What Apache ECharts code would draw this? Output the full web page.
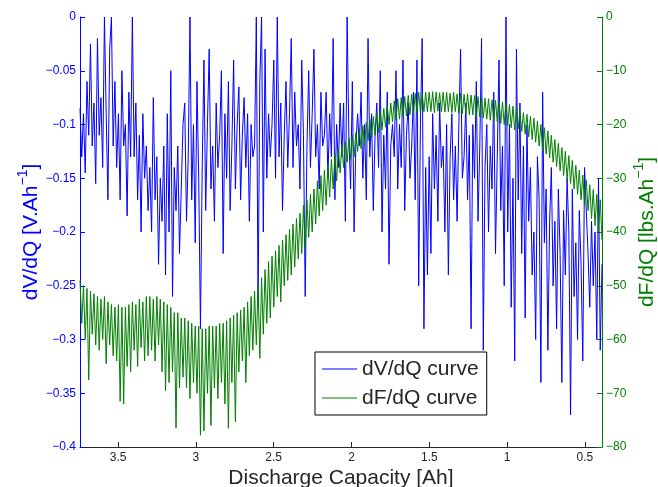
<!DOCTYPE html>
<html>
<head>
<meta charset="utf-8">
<script src="https://cdn.jsdelivr.net/npm/echarts@6/dist/echarts.min.js"></script>
<style>
html,body{margin:0;padding:0;background:#fff;}
#chart{width:658px;height:487px;}
</style>
</head>
<body>
<div id="chart"></div>
<script>
// Discharge capacity range (Ah), samples are evenly spaced from CAP_MAX down to CAP_MIN
const CAP_MAX = 3.745;
const CAP_MIN = 0.39;
const xTicks = [0.5, 1, 1.5, 2, 2.5, 3, 3.5];
const leftTicks = [0, -0.05, -0.1, -0.15, -0.2, -0.25, -0.3, -0.35, -0.4];
const rightTicks = [0, -10, -20, -30, -40, -50, -60, -70, -80];
const seriesNames = ['dV/dQ curve', 'dF/dQ curve'];

// dV/dQ [V.Ah^-1]
const dVdQ = [
-0.085,-0.13,-0.09,-0.145,-0.06,-0.11,-0.025,-0.12,-0.08,-0.155,
-0.02,-0.11,-0.075,-0.14,0,-0.09,-0.17,-0.03,0,-0.12,
-0.06,-0.14,-0.09,-0.17,-0.05,-0.12,-0.1,-0.185,-0.07,-0.13,
0,-0.13,-0.08,-0.17,-0.11,-0.2,-0.09,-0.15,-0.12,-0.18,
-0.14,-0.2,-0.075,-0.17,-0.13,-0.23,-0.15,-0.19,-0.12,-0.24,
-0.09,-0.2,-0.05,-0.26,-0.14,-0.18,-0.12,-0.22,-0.16,-0.1,
-0.08,-0.19,-0.13,0,-0.17,-0.1,-0.21,-0.06,-0.15,-0.29,
-0.14,-0.04,-0.18,-0.1,-0.03,-0.16,-0.12,-0.19,-0.08,-0.14,
-0.11,-0.05,-0.22,-0.09,-0.15,-0.06,-0.18,-0.12,-0.04,-0.16,
-0.1,-0.065,-0.17,-0.11,-0.075,-0.14,-0.09,-0.19,-0.1,-0.13,
-0.12,0,-0.27,-0.06,0,-0.2,-0.03,-0.15,-0.09,-0.13,
-0.1,-0.04,-0.15,0,-0.13,-0.08,-0.18,-0.11,-0.06,-0.14,
-0.09,-0.02,-0.14,-0.07,-0.12,-0.1,-0.16,-0.04,-0.11,-0.26,
-0.12,-0.05,-0.14,-0.09,-0.03,-0.13,-0.1,-0.16,-0.07,-0.12,
-0.11,-0.07,-0.15,-0.09,-0.13,-0.02,-0.17,-0.1,-0.14,-0.08,
-0.13,-0.08,-0.19,0,-0.11,-0.16,-0.06,-0.2,-0.12,-0.09,
-0.12,-0.07,-0.15,-0.1,-0.17,-0.02,-0.13,-0.09,-0.18,-0.11,
-0.08,-0.14,-0.05,-0.2,-0.11,-0.16,-0.07,-0.23,-0.12,-0.1,
-0.13,-0.05,-0.16,-0.1,-0.14,-0.04,-0.18,-0.11,-0.08,-0.15,
-0.12,-0.07,-0.17,-0.04,-0.25,-0.1,-0.02,-0.29,-0.14,-0.24,
-0.13,-0.22,-0.09,-0.16,-0.11,-0.19,-0.08,-0.14,-0.12,-0.2,
-0.1,-0.24,-0.13,-0.09,-0.17,-0.12,-0.19,-0.1,-0.03,-0.15,
-0.13,-0.08,-0.17,-0.11,-0.29,-0.1,-0.15,-0.06,-0.19,-0.12,
-0.02,-0.31,-0.14,-0.1,-0.2,-0.12,-0.16,-0.07,-0.22,-0.13,
-0.04,-0.18,-0.12,-0.25,0,-0.2,-0.1,-0.27,-0.15,-0.32,
-0.03,-0.17,-0.08,-0.22,-0.12,-0.28,-0.1,-0.19,-0.14,-0.24,
-0.2,-0.3,-0.13,-0.17,-0.34,-0.07,-0.21,-0.16,-0.31,-0.19,
-0.14,-0.25,-0.19,-0.29,-0.16,-0.22,-0.34,-0.18,-0.24,-0.15,
-0.2,-0.37,-0.16,-0.26,-0.21,-0.3,-0.18,-0.23,-0.32,-0.14,
-0.14,-0.22,-0.27,-0.19,-0.25,-0.2,-0.3,-0.15,-0.31,-0.23
];

// dF/dQ [lbs.Ah^-1]
const dFdQ = [
-49,-57,-50,-60,-50.5,-67.5,-51,-59,-51.5,-61,
-52,-62,-52.5,-60,-52,-64.5,-53,-61,-53.5,-63,
-54,-64,-53.5,-71.5,-54,-72,-54,-65,-53.5,-66,
-53,-62,-53.5,-65,-52.5,-61.5,-53,-64,-52,-63,
-52,-62,-52.5,-64,-52,-61,-52.5,-66,-53,-69.5,
-53.5,-68,-54,-66,-55,-76.5,-55,-69,-56,-67,
-56,-69,-56.5,-71,-57,-68,-57.5,-70,-57.5,-77.8,
-58,-77,-58,-70,-57.5,-76,-57.5,-69,-57.5,-71,
-57,-68,-57,-72,-56.5,-76.5,-56,-68,-55.5,-75.3,
-55,-66,-54.5,-64,-54,-68,-53,-63,-52,-62,
-51,-61,-50,-63.5,-48.5,-59,-47,-57,-45.5,-56,
-44.5,-54,-43.5,-52,-42.5,-53,-41.5,-50,-40.5,-49,
-39.5,-48,-38.5,-46.5,-37.5,-45,-36.5,-44,-35,-43,
-34,-41,-33,-40,-32,-38.5,-30.5,-37,-29.5,-36,
-28.5,-35,-27.5,-33.5,-26.5,-32,-25.5,-30.5,-24.5,-29,
-23.8,-28,-23.2,-27,-22.5,-26.5,-22,-26,-21.5,-25,
-20.8,-24.5,-20.2,-24,-19.6,-23,-19,-22.5,-18.5,-22,
-18,-21.5,-17.5,-21,-17,-20.5,-16.5,-20,-16,-19.5,
-15.6,-19.2,-15.2,-19,-15,-18.6,-14.8,-18.4,-14.6,-18.2,
-14.4,-18,-14.2,-17.8,-14,-17.8,-14.2,-17.6,-14,-17.6,
-14,-17.6,-13.9,-17.8,-14,-17.5,-14.1,-17.6,-14,-17.7,
-14,-17.6,-14.2,-17.8,-14,-17.6,-14.3,-17.9,-14.2,-18,
-14.4,-18,-14.3,-18.2,-14.5,-18.2,-14.6,-18.5,-14.8,-18.6,
-15,-18.8,-15.1,-19,-15.2,-19.2,-15.4,-19.4,-15.5,-19.5,
-15.6,-19.8,-15.8,-20,-16,-20.2,-16.3,-20.6,-16.6,-21,
-17,-20.8,-17.4,-21.3,-17.8,-21.8,-18.1,-22.3,-18.5,-22.8,
-18.8,-23.3,-19.4,-24,-20,-24.8,-20.6,-25.5,-21.2,-26.2,
-22,-27,-22.8,-27.8,-23.5,-28.6,-24.3,-29.5,-25,-30.3,
-25.8,-31,-26.7,-32,-27.6,-33,-28.5,-34,-29.4,-35,
-30.3,-36,-31.2,-37.5,-32.1,-38.8,-33,-40,-34,-41.5
];

const BLUE = '#0000ff';
const GREEN = '#008000';
const DARK = '#262626';
const FONT = '"Liberation Sans", Arial, Helvetica, sans-serif';

function capAt(i, n) { return CAP_MAX - i * (CAP_MAX - CAP_MIN) / (n - 1); }
const blueData = dVdQ.map((v, i) => [capAt(i, dVdQ.length), v]);
const greenData = dFdQ.map((v, i) => [capAt(i, dFdQ.length), v]);
const minusFmt = v => (v < 0 ? '\u2212' + String(Math.abs(v)) : String(v));

const chart = echarts.init(document.getElementById('chart'), null, {renderer: 'canvas'});
chart.setOption({
  animation: false,
  backgroundColor: '#ffffff',
  textStyle: {fontFamily: FONT},
  grid: {left: 80, right: 56, top: 17, bottom: 40, containLabel: false, outerBoundsMode: 'none'},
  xAxis: {
    type: 'value', inverse: true, min: CAP_MIN, max: CAP_MAX,
    name: 'Discharge Capacity [Ah]', nameLocation: 'middle', nameGap: 21, nameMoveOverlap: false,
    nameTextStyle: {color: DARK, fontSize: 21, fontFamily: FONT},
    axisLine: {show: true, onZero: false, lineStyle: {color: DARK, width: 1}},
    axisTick: {show: true, inside: true, length: 5, customValues: xTicks, lineStyle: {color: DARK}},
    axisLabel: {color: DARK, fontSize: 12, margin: 5, customValues: xTicks, formatter: v => String(v), fontFamily: FONT},
    splitLine: {show: false}
  },
  yAxis: [{
    type: 'value', position: 'left', min: -0.4, max: 0, interval: 0.05,
    name: '{t|dV/dQ [V.Ah}{s|\u22121}{t|]}', nameLocation: 'middle', nameGap: 38, nameRotate: 90, nameMoveOverlap: false,
    nameTextStyle: {color: BLUE, rich: {
      t: {fontSize: 21, color: BLUE, fontFamily: FONT, lineHeight: 26, verticalAlign: 'bottom'},
      s: {fontSize: 14, color: BLUE, fontFamily: FONT, lineHeight: 16, verticalAlign: 'top'}
    }},
    axisLine: {show: true, onZero: false, lineStyle: {color: BLUE, width: 1}},
    axisTick: {show: true, inside: true, length: 5, lineStyle: {color: BLUE}},
    axisLabel: {color: BLUE, fontSize: 12, margin: 4, formatter: minusFmt, fontFamily: FONT},
    splitLine: {show: false}
  }, {
    type: 'value', position: 'right', min: -80, max: 0, interval: 10,
    name: '{t|dF/dQ [lbs.Ah}{s|\u22121}{t|]}', nameLocation: 'middle', nameGap: 30, nameRotate: 90, nameMoveOverlap: false,
    nameTextStyle: {color: GREEN, rich: {
      t: {fontSize: 21, color: GREEN, fontFamily: FONT, lineHeight: 26, verticalAlign: 'bottom'},
      s: {fontSize: 14, color: GREEN, fontFamily: FONT, lineHeight: 16, verticalAlign: 'top'}
    }},
    axisLine: {show: true, onZero: false, lineStyle: {color: GREEN, width: 1}},
    axisTick: {show: true, inside: true, length: 5, lineStyle: {color: GREEN}},
    axisLabel: {color: GREEN, fontSize: 12, margin: 4, formatter: minusFmt, fontFamily: FONT},
    splitLine: {show: false}
  }],
  legend: {
    orient: 'vertical', left: 315, top: 352,
    data: seriesNames,
    icon: 'rect',
    itemWidth: 35, itemHeight: 1, itemGap: 7,
    padding: [6, 8, 6, 7],
    backgroundColor: '#ffffff', borderColor: '#000000', borderWidth: 1, borderRadius: 0,
    textStyle: {color: DARK, fontSize: 21, lineHeight: 22, fontFamily: FONT}
  },
  series: [{
    name: seriesNames[0], type: 'line', xAxisIndex: 0, yAxisIndex: 0,
    data: blueData, symbol: 'none', showSymbol: false,
    lineStyle: {color: BLUE, width: 1}, itemStyle: {color: BLUE}, z: 2
  }, {
    name: seriesNames[1], type: 'line', xAxisIndex: 0, yAxisIndex: 1,
    data: greenData, symbol: 'none', showSymbol: false,
    lineStyle: {color: GREEN, width: 1}, itemStyle: {color: GREEN}, z: 3
  }]
});
</script>
</body>
</html>
